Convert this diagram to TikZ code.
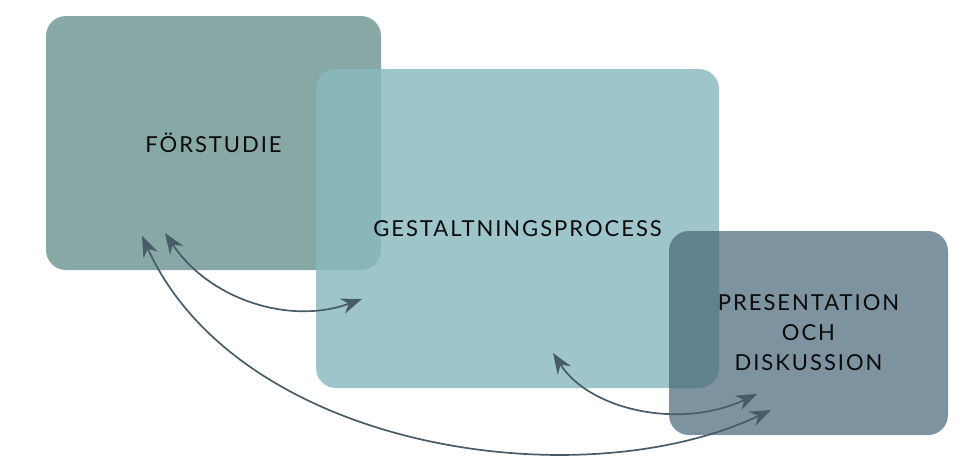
\documentclass[tikz,border=0pt]{standalone}
\usepackage{fontspec}
\setmainfont{Lato}[LetterSpace=9]
\usetikzlibrary{arrows.meta}
\definecolor{boxA}{RGB}{135,168,164}
\definecolor{boxB}{RGB}{138,185,191}
\definecolor{boxC}{RGB}{71,101,119}
\definecolor{arr}{RGB}{72,92,104}
\definecolor{txt}{RGB}{10,10,10}
\tikzset{
  panel/.style={rounded corners=20pt, draw=none, align=center, text=txt,
    font=\fontsize{22}{30}\selectfont, inner sep=0pt},
  tipstyle/.tip={Stealth[length=21pt,width=16pt,inset=7pt,line width=0pt]},
  link/.style={draw=arr, line width=1.7pt, {tipstyle}-{tipstyle}}
}
\begin{document}
\begin{tikzpicture}[x=1pt,y=-1pt]
\useasboundingbox (0,0) rectangle (967,459);
\node[panel, fill=boxA, minimum width=335pt, minimum height=254pt] (forst) at (213.5,143) {FÖRSTUDIE};
\node[panel, fill=boxB, fill opacity=0.83, text opacity=1, minimum width=403pt, minimum height=319pt] (gest) at (517.5,228.5) {GESTALTNINGSPROCESS};
\node[panel, fill=boxC, fill opacity=0.7, text opacity=1, minimum width=279pt, minimum height=204pt] (pres) at (808.5,333) {PRESENTATION\\OCH\\DISKUSSION};
\coordinate (a1s) at (165,233);
\coordinate (a1e) at (362,299);
\coordinate (a2s) at (142,236);
\coordinate (a2e) at (771,410);
\coordinate (a3s) at (553,353);
\coordinate (a3e) at (757,394);
\draw[link] (a1s) .. controls (210,300) and (290,325) .. (a1e);
\draw[link] (a2s) .. controls (240,450) and (580,500) .. (a2e);
\draw[link] (a3s) .. controls (590,410) and (680,430) .. (a3e);
\end{tikzpicture}
\end{document}
